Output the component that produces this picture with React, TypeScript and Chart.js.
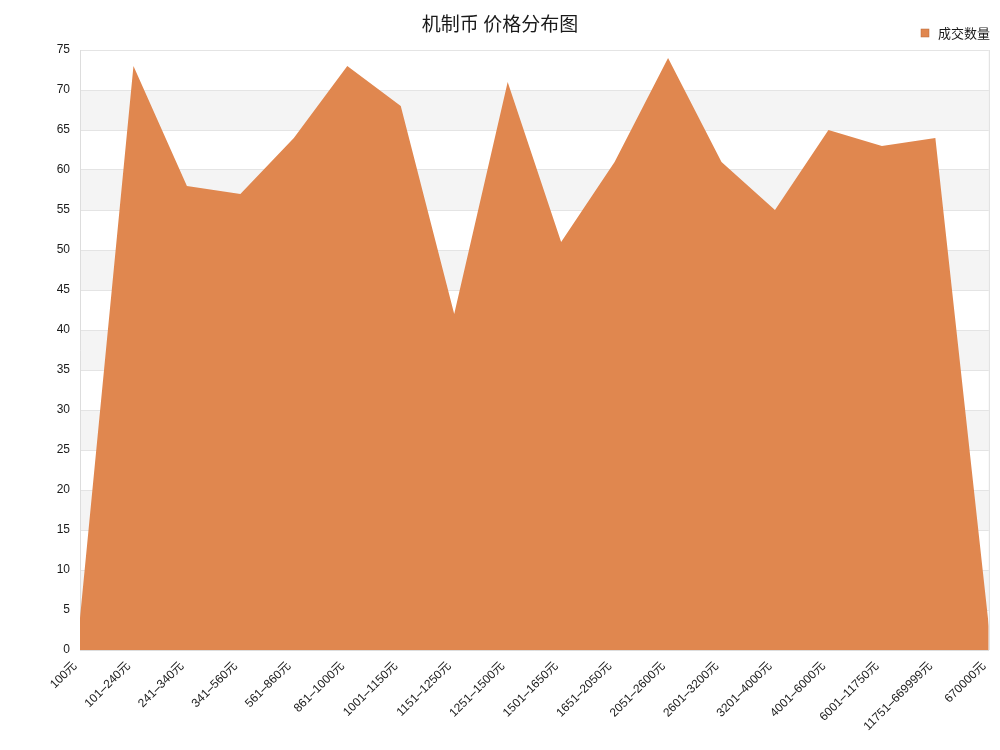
import React, { useEffect, useRef } from "react";
import { Chart, registerables } from "chart.js";

Chart.register(...registerables);

const categories = [
  "100元", "101–240元", "241–340元", "341–560元", "561–860元", "861–1000元",
  "1001–1150元", "1151–1250元", "1251–1500元", "1501–1650元", "1651–2050元",
  "2051–2600元", "2601–3200元", "3201–4000元", "4001–6000元", "6001–11750元",
  "11751–669999元", "670000元",
];
const counts = [4, 73, 58, 57, 64, 73, 68, 42, 71, 51, 61, 74, 61, 55, 65, 63, 64, 3];
const seriesName = "成交数量";
const titleText = "机制币 价格分布图";
const yMax = 75;
const yStep = 5;
const fillColor = "#e0874f";

const decorPlugin = {
  id: "decor",
  beforeDraw(chart: any) {
    const { ctx, chartArea, scales } = chart;
    const y = scales.y;
    ctx.save();
    for (let v = 5; v < yMax; v += 10) {
      const top = y.getPixelForValue(v + 5);
      const bottom = y.getPixelForValue(v);
      ctx.fillStyle = "#f4f4f4";
      ctx.fillRect(chartArea.left, top, chartArea.right - chartArea.left, bottom - top);
    }
    ctx.restore();
  },
  afterDraw(chart: any) {
    const { ctx, chartArea } = chart;
    ctx.save();
    ctx.strokeStyle = "#dddddd";
    ctx.lineWidth = 1;
    ctx.beginPath();
    ctx.moveTo(chartArea.right + 0.5, chartArea.top);
    ctx.lineTo(chartArea.right + 0.5, chartArea.bottom);
    ctx.stroke();
    // title
    ctx.fillStyle = "#1a1a1a";
    ctx.font = "400 19px 'Noto Sans CJK SC', sans-serif";
    ctx.textAlign = "center";
    ctx.textBaseline = "middle";
    ctx.fillText(titleText, 500, 24);
    // legend
    ctx.fillStyle = fillColor;
    ctx.fillRect(921, 29, 8, 8);
    ctx.strokeStyle = "#b86a3a";
    ctx.lineWidth = 0.5;
    ctx.strokeRect(921, 29, 8, 8);
    ctx.fillStyle = "#1a1a1a";
    ctx.font = "13px 'Noto Sans CJK SC', sans-serif";
    ctx.textAlign = "left";
    ctx.fillText(seriesName, 938, 33);
    ctx.restore();
  },
};

export default function App() {
  const ref = useRef<HTMLCanvasElement>(null);
  useEffect(() => {
    const chart = new Chart(ref.current!, {
      type: "line",
      data: {
        labels: categories,
        datasets: [
          {
            label: seriesName,
            data: counts,
            fill: "origin",
            backgroundColor: fillColor,
            borderColor: fillColor,
            borderWidth: 0,
            pointRadius: 0,
            tension: 0,
          },
        ],
      },
      options: {
        animation: false,
        responsive: false,
        layout: { padding: { left: 0, right: 8, top: 50, bottom: 0 } },
        plugins: {
          title: { display: false },
          legend: { display: false },
          tooltip: { enabled: false },
        },
        scales: {
          x: {
            offset: false,
            grid: { display: false },
            border: { color: "#dddddd" },
            afterFit(scale: any) {
              scale.height = 100;
            },
            ticks: {
              maxRotation: 45,
              minRotation: 45,
              autoSkip: false,
              padding: 1,
              labelOffset: -5,
              font: { family: "'Liberation Sans', 'Noto Sans CJK SC', sans-serif", size: 12 },
              color: "#1a1a1a",
            },
          },
          y: {
            min: 0,
            max: yMax,
            grid: { color: "#e4e4e4", drawTicks: false },
            border: { color: "#dddddd" },
            afterFit(scale: any) {
              scale.width = 80;
            },
            ticks: {
              stepSize: yStep,
              padding: 10,
              font: { family: "'Liberation Sans', sans-serif", size: 12 },
              color: "#1a1a1a",
            },
          },
        },
      },
      plugins: [decorPlugin],
    } as any);
    return () => chart.destroy();
  }, []);
  return (
    <div style={{ position: "absolute", left: 0, top: 0, width: 1000, height: 750 }}>
      <canvas ref={ref} width={1000} height={750} />
    </div>
  );
}
